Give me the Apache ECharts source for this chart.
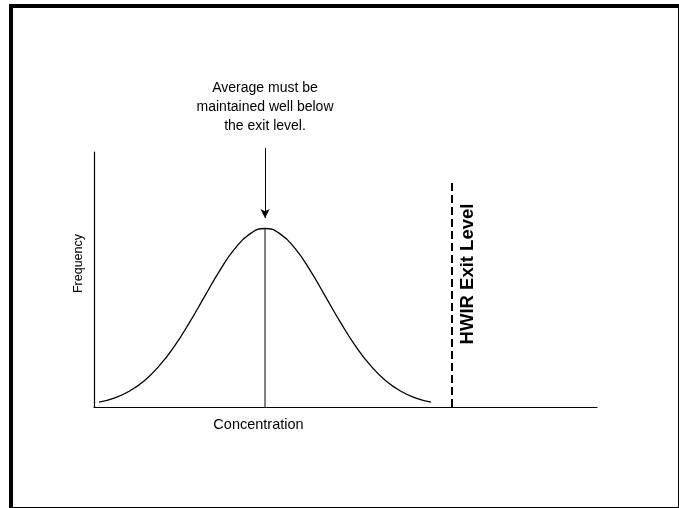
<!DOCTYPE html>
<html><head><meta charset="utf-8">
<script src="https://cdn.jsdelivr.net/npm/echarts@6/dist/echarts.min.js"></script>
<style>
html,body{margin:0;padding:0;background:#fff;}
#c{position:absolute;left:0;top:0;width:679px;height:508px;}
#frame{position:absolute;left:9px;top:4px;width:670px;height:504px;box-sizing:border-box;border-style:solid;border-color:#000;border-width:4px 1px 1px 4px;pointer-events:none;}
</style></head><body>
<div id="c"></div><div id="frame"></div>
<script>
// Distribution curve (concentration units 0-100, frequency units 0-100)
const concentration = [1, 4, 7, 10, 13, 16, 19, 22, 25, 28, 31, 34, 37, 40, 43, 46, 49, 52, 55, 58, 61, 64, 67];
const frequency     = [1.9, 3.5, 6.2, 10.3, 16.2, 23.9, 33.2, 43.4, 53.5, 62.1, 67.9, 70, 67.9, 62.1, 53.5, 43.4, 33.2, 23.9, 16.2, 10.3, 6.2, 3.5, 1.9];
const averageConcentration = 34;
const peakFrequency = 70;
const arrowFrom = 101.6;
const arrowTo = 74.1;
const exitLevel = 71.2;
const exitLineTop = 88.4;
const xAxisName = 'Concentration';
const yAxisName = 'Frequency';
const annotationLines = ['Average must be', 'maintained well below', 'the exit level.'];
const exitLabel = 'HWIR Exit Level';

const FONT = '"Liberation Sans", Arial, sans-serif';
const chart = echarts.init(document.getElementById('c'));
const curveData = concentration.map((c, i) => [c, frequency[i]]);

chart.setOption({
  animation: false,
  backgroundColor: '#fff',
  grid: [
    { left: 94, right: 82, top: 152, bottom: 101 },
    { left: 94, right: 82, top: 101, bottom: 101 }
  ],
  xAxis: [{
    type: 'value', min: 0, max: 100, gridIndex: 0,
    name: xAxisName, nameLocation: 'middle', nameGap: 10,
    nameTextStyle: { fontFamily: FONT, fontSize: 14.5, color: '#000', padding: [0, 174, 0, 0] },
    axisLine: { show: true, onZero: false, lineStyle: { color: '#000', width: 1.2 } },
    axisTick: { show: false }, axisLabel: { show: false }, splitLine: { show: false }
  }, {
    type: 'value', min: 0, max: 100, gridIndex: 1, show: false
  }],
  yAxis: [{
    type: 'value', min: 0, max: 100, gridIndex: 0,
    name: yAxisName, nameLocation: 'middle', nameGap: 9, nameRotate: 90,
    nameTextStyle: { fontFamily: FONT, fontSize: 12.5, color: '#000', padding: [0, 0, 0, 32] },
    axisLine: { show: true, onZero: false, lineStyle: { color: '#000', width: 1.2 } },
    axisTick: { show: false }, axisLabel: { show: false }, splitLine: { show: false }
  }, {
    type: 'value', min: 0, max: 120, gridIndex: 1, show: false
  }],
  series: [
    {
      type: 'line', data: curveData, smooth: true, symbol: 'none',
      lineStyle: { color: '#000', width: 1.3 },
      markLine: {
        silent: true, animation: false,
        data: [
          [
            { coord: [exitLevel, 0], symbol: 'none',
              lineStyle: { type: [8, 4], width: 2, color: '#000' },
              label: { show: true, position: 'insideEndBottom', distance: [22, 6],
                formatter: exitLabel,
                fontFamily: FONT, fontSize: 18.5, fontWeight: 'bold', color: '#000' } },
            { coord: [exitLevel, exitLineTop], symbol: 'none' }
          ]
        ]
      }
    },
    {
      type: 'line', data: [[averageConcentration, 0], [averageConcentration, peakFrequency]],
      symbol: 'none', lineStyle: { color: '#000', width: 1 }
    },
    {
      type: 'line', xAxisIndex: 1, yAxisIndex: 1, data: [], symbol: 'none',
      markLine: {
        silent: true, animation: false,
        lineStyle: { color: '#000', width: 1, type: 'solid' },
        data: [
          [
            { coord: [averageConcentration, arrowFrom], symbol: 'none',
              label: { show: true, position: 'start', distance: 12,
                formatter: annotationLines.join('\n'),
                fontFamily: FONT, fontSize: 14, lineHeight: 19, color: '#000' } },
            { coord: [averageConcentration, arrowTo], symbol: 'arrow', symbolSize: [7, 9] }
          ]
        ]
      }
    }
  ]
});
</script>
</body></html>
